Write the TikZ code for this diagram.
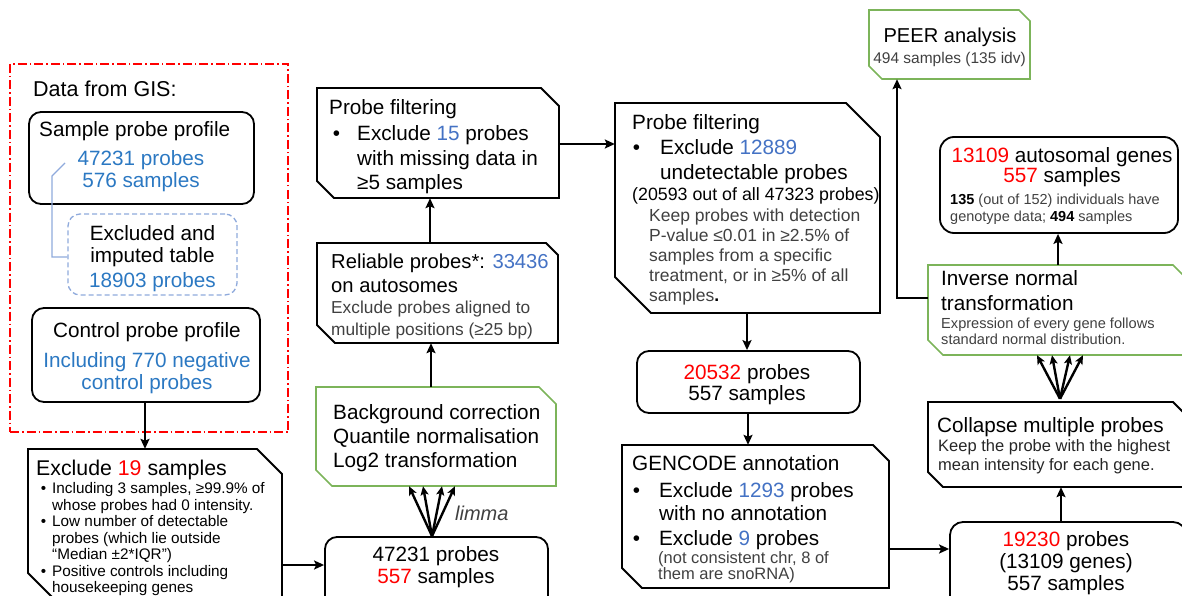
\documentclass[tikz,border=0pt]{standalone}
\usepackage{fontspec}
\setmainfont{Liberation Sans}
\usetikzlibrary{arrows.meta,calc}
\definecolor{bluea}{HTML}{2B78C2}
\definecolor{blueb}{HTML}{4472C4}
\definecolor{redn}{HTML}{FF0000}
\definecolor{grn}{HTML}{7CB45A}
\definecolor{lblue}{HTML}{8FAADC}
\definecolor{gtxt}{HTML}{404040}
\definecolor{dtxt}{HTML}{262626}
\newcommand\fs[2]{\fontsize{#1}{#2}\selectfont}
\newcommand\snipbox[8]{%
  \node[ghost, minimum width={(#5-#3)*1pt}, minimum height={(#6-#4)*1pt}] (#1) at ({(#3+#5)/2},{(#4+#6)/2}) {};
  \draw[#2] (#3,#4) -- ({#5-#7},#4) -- (#5,{#4+#7}) -- (#5,#6) -- ({#3+#8},#6) -- (#3,{#6-#8}) -- cycle;}
\begin{document}
\begin{tikzpicture}[x=1pt,y=-1pt,
  frame/.style={line width=1.8pt, draw=black, line join=miter},
  gframe/.style={line width=1.6pt, draw=grn, line join=miter},
  rbox/.style={draw, line width=1.8pt, rounded corners=12pt, inner sep=0},
  ghost/.style={inner sep=0, draw=none},
  txt/.style={inner sep=0, anchor=north west, align=left},
  ctxt/.style={inner sep=0, anchor=north, align=center},
  arr/.style={line width=2.9pt, -{Stealth[length=10pt,width=9pt,inset=2pt]}},
  farr/.style={line width=2.4pt, -{Stealth[length=9pt,width=8pt,inset=2pt]}},
  big/.style={font=\fs{20.7}{24}},
]
\useasboundingbox (0,0) rectangle (1182,596);
\clip (0,0) rectangle (1182,596);

% ---------- Data from GIS ----------
\node[draw=redn, line width=1.4pt, dash pattern=on 9pt off 3pt on 1.5pt off 3pt,
      minimum width=278pt, minimum height=368pt, inner sep=0] (gis) at (149,248) {};
\node[txt, font=\fs{21.5}{24}] (tgis) at (33,80.3) {Data from GIS:};

\node[rbox, minimum width=225pt, minimum height=92pt] (samp) at (141.5,158) {};
\node[txt, big] (tsamp) at (39,121.5) {Sample probe profile};
\node[ctxt, font=\fs{20.7}{22}, text=bluea] (tsampn) at (141,150.5) {47231 probes\\576 samples};

\node[draw=lblue, line width=1.3pt, dash pattern=on 5pt off 3pt, rounded corners=12pt,
      minimum width=169pt, minimum height=81pt, inner sep=0] (exc) at (152.5,254.5) {};
\node[ctxt, font=\fs{20.7}{22}] (texc) at (152.5,225.5) {Excluded and\\imputed table};
\node[ctxt, big, text=bluea] (texcn) at (152.5,272.5) {18903 probes};
\draw[lblue, line width=1.3pt] (65,163) -- (52,176) |- (exc.west |- 0,257);

\node[rbox, minimum width=228pt, minimum height=94pt] (ctrl) at (146,355) {};
\node[txt, big] (tctrl) at (53,322.5) {Control probe profile};
\node[ctxt, font=\fs{20.7}{22}, text=bluea] (tctrln) at (147,352.5) {Including 770 negative\\control probes};

% ---------- Exclude 19 samples ----------
\snipbox{excl}{frame}{28}{449}{282}{597}{25}{24}
\node[txt, font=\fs{21.3}{24}] (texcl) at (36,460.3) {Exclude \textcolor{redn}{19} samples};
\node[txt, font=\fs{15.3}{16.5}] (texclb) at (52,482.5) {\llap{•\hskip 6pt}Including 3 samples, ≥99.9\% of\\whose probes had 0 intensity.\\\llap{•\hskip 6pt}Low number of detectable\\probes (which lie outside\\“Median ±2*IQR”)\\\llap{•\hskip 6pt}Positive controls including\\housekeeping genes};

% ---------- 47231 / limma ----------
\node[rbox, minimum width=223pt, minimum height=73pt] (n47) at (436.5,573.5) {};
\node[ctxt, font=\fs{20.7}{22}] (tn47) at (436,546.5) {47231 probes\\\textcolor{redn}{557} samples};

\snipbox{bg}{gframe}{316}{387}{556}{486}{17}{16}
\node[txt, big] (tbg) at (333,404.5) {Background correction\\Quantile normalisation\\Log2 transformation};
\node[inner sep=0, anchor=west, font=\fs{20}{24}\itshape, text=gtxt] (limma) at (455,513) {limma};

\snipbox{rel}{frame}{317}{243}{558}{343}{12}{18}
\node[txt, font=\fs{20.2}{24}] (trel) at (331,253.7) {Reliable probes*: \textcolor{blueb}{33436}\\on autosomes};
\node[txt, font=\fs{17.3}{22}, text=gtxt] (trelb) at (331,300.8) {Exclude probes aligned to\\multiple positions (≥25 bp)};

\snipbox{pf1}{frame}{317}{88}{559}{198}{18}{17}
\node[txt, big] (tpf1) at (329,99.5) {Probe filtering};
\node[txt, font=\fs{20.7}{24.5}] (tpf1b) at (357,125.5) {\llap{•\hskip 17pt}Exclude \textcolor{blueb}{15} probes\\with missing data in\\≥5 samples};

% ---------- Probe filtering 2 ----------
\snipbox{pf2}{frame}{615}{103}{880}{313}{34}{36}
\node[txt, big] (tpf2) at (632,114.5) {Probe filtering};
\node[txt, font=\fs{20.7}{25}] (tpf2b) at (660,139.5) {\llap{•\hskip 20pt}Exclude \textcolor{blueb}{12889}\\undetectable probes};
\node[txt, font=\fs{17.8}{20}] (tpf2c) at (632,187.6) {(20593 out of all 47323 probes)};
\node[txt, font=\fs{17.5}{20}, text=gtxt] (tpf2d) at (649,208.7) {Keep probes with detection\\P-value ≤0.01 in ≥2.5\% of\\samples from a specific\\treatment, or in ≥5\% of all\\samples\textcolor{black}{\textbf{.}}};

\node[rbox, minimum width=223pt, minimum height=62pt] (n20) at (748.5,382) {};
\node[ctxt, font=\fs{20.7}{21}] (tn20) at (747,364.5) {\textcolor{redn}{20532} probes\\557 samples};

\snipbox{gen}{frame}{622}{445}{889}{588}{16}{20}
\node[txt, big] (tgen) at (632,455.5) {GENCODE annotation};
\node[txt, font=\fs{20.7}{23}] (tgenb) at (659,482.5) {\llap{•\hskip 19pt}Exclude \textcolor{blueb}{1293} probes\\with no annotation};
\node[txt, big] (tgenc) at (659,530.5) {\llap{•\hskip 19pt}Exclude \textcolor{blueb}{9} probes};
\node[txt, font=\fs{16.5}{15}, text=gtxt] (tgend) at (658,551) {(not consistent chr, 8 of\\them are snoRNA)};

% ---------- right column ----------
\node[rbox, rounded corners=13pt, minimum width=236pt, minimum height=90pt] (n19) at (1068,567) {};
\node[ctxt, font=\fs{20.7}{22}] (tn19) at (1066,531.5) {\textcolor{redn}{19230} probes\\(13109 genes)\\557 samples};

\snipbox{col}{frame}{928}{402}{1188}{487}{15}{15}
\node[txt, big] (tcol) at (937,417.5) {Collapse multiple probes};
\node[txt, font=\fs{16.5}{19}, text=dtxt] (tcolb) at (938,439) {Keep the probe with the highest\\mean intensity for each gene.};

\snipbox{inv}{gframe}{928}{265}{1188}{355}{15}{15}
\node[txt, font=\fs{20.7}{25}] (tinv) at (941,270.5) {Inverse normal\\transformation};
\node[txt, font=\fs{14.6}{16}, text=gtxt] (tinvb) at (941,317.7) {Expression of every gene follows\\standard normal distribution.};

\node[rbox, rounded corners=14pt, minimum width=238pt, minimum height=96pt] (n13) at (1059,185) {};
\node[ctxt, font=\fs{20.7}{20}] (tn13) at (1062,147.5) {\textcolor{redn}{13109} autosomal genes\\\textcolor{redn}{557} samples};
\node[txt, font=\fs{14.5}{17}, text=gtxt] (tn13b) at (950,193.8) {\textcolor{black}{\textbf{135}} (out of 152) individuals have\\genotype data; \textcolor{black}{\textbf{494}} samples};

\snipbox{peer}{gframe}{869}{10}{1030}{79}{11}{13}
\node[ctxt, font=\fs{20.1}{22}] (tpeer) at (950,28) {PEER analysis};
\node[ctxt, font=\fs{15.5}{18}, text=gtxt] (tpeerb) at (949.5,52.4) {494 samples (135 idv)};

% ---------- connectors ----------
\draw[arr] ([xshift=-1pt]ctrl.south) -- ([xshift=-1pt]ctrl.south |- excl.north);
\draw[arr] (excl.east |- 0,565) -- (n47.west |- 0,565);
\coordinate (fo) at (n47.north -| 432,0);
\draw[farr] (fo) -- (bg.south -| 409,0);
\draw[farr] (fo) -- (bg.south -| 423,0);
\draw[farr] (fo) -- (bg.south -| 442,0);
\draw[farr] (fo) -- (bg.south -| 455,0);
\draw[arr] (bg.north -| 431,0) -- (rel.south -| 431,0);
\draw[arr] (rel.north -| 430,0) -- (pf1.south -| 430,0);
\draw[arr] (pf1.east |- 0,144) -- (pf2.west |- 0,144);
\draw[arr] (pf2.south -| 747,0) -- (n20.north -| 747,0);
\draw[arr] (n20.south -| 748,0) -- (gen.north -| 748,0);
\draw[arr] (gen.east |- 0,549) -- (n19.west |- 0,549);
\draw[arr] (n19.north -| 1061,0) -- (col.south -| 1061,0);
\coordinate (fc) at ([yshift=3pt]col.north -| 1060,0);
\draw[farr] (fc) -- (inv.south -| 1037,0);
\draw[farr] (fc) -- (inv.south -| 1052,0);
\draw[farr] (fc) -- (inv.south -| 1070,0);
\draw[farr] (fc) -- (inv.south -| 1083,0);
\draw[arr] (inv.north -| 1058,0) -- (n13.south -| 1058,0);
\draw[arr] (inv.west |- 0,298) -| (peer.south -| 897,0);
\end{tikzpicture}
\end{document}
